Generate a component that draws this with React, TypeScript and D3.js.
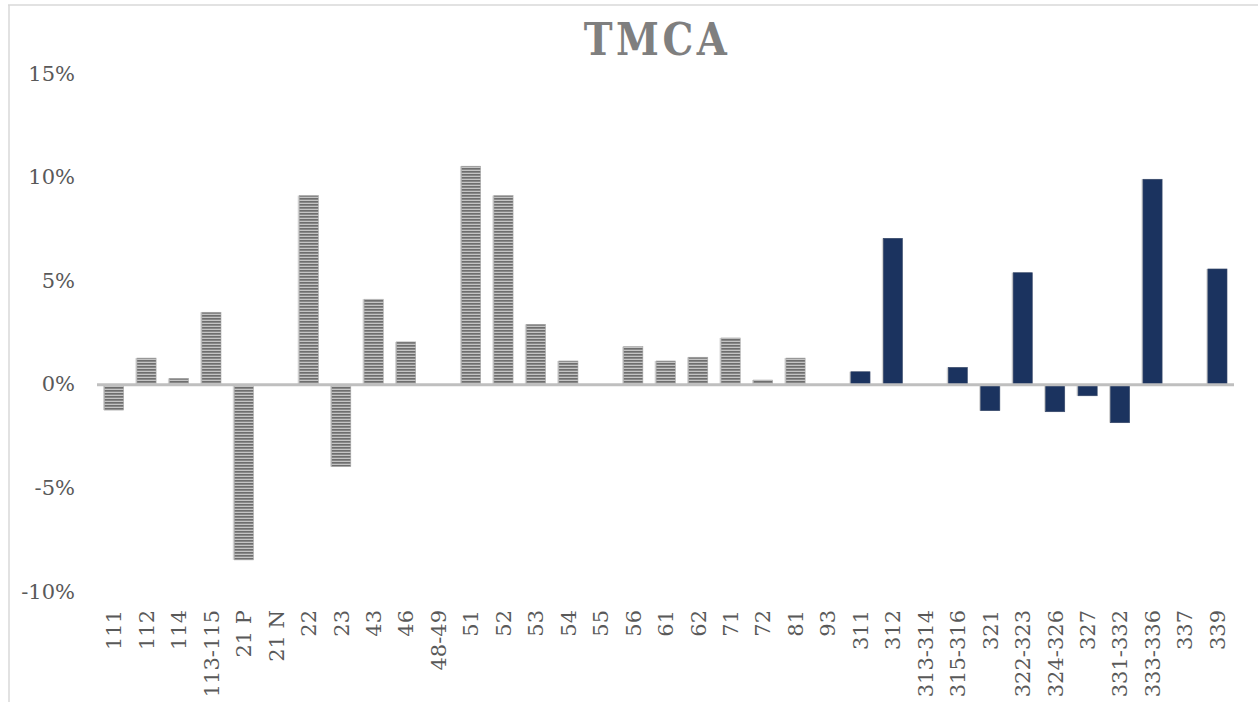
import React from 'react';
import * as d3 from 'd3';

const categories = [
  '111', '112', '114', '113-115', '21 P', '21 N', '22', '23', '43', '46', '48-49',
  '51', '52', '53', '54', '55', '56', '61', '62', '71', '72', '81', '93',
  '311', '312', '313-314', '315-316', '321', '322-323', '324-326', '327',
  '331-332', '333-336', '337', '339',
];

// growth rates in %
const values = [
  -1.22, 1.29, 0.31, 3.5, -8.45, 0, 9.13, -3.95, 4.13, 2.07, 0,
  10.55, 9.13, 2.92, 1.15, 0, 1.84, 1.15, 1.33, 2.26, 0.23, 1.29, 0,
  0.63, 7.07, 0, 0.84, -1.25, 5.41, -1.3, -0.53,
  -1.83, 9.92, 0, 5.59,
];

// manufacturing (3xx) drawn in navy, the rest striped gray
const manufacturing = categories.map((c) => c.startsWith('3'));

const yTicks = [-10, -5, 0, 5, 10, 15];

const W = 1258;
const H = 702;

export default function App() {
  const x = d3.scaleBand<string>()
    .domain(categories)
    .range([98, 1233.5])
    .paddingInner(0.41)
    .paddingOuter(0.2);

  const y = d3.scaleLinear().domain([-10, 15]).range([592, 74]);

  const font = '"DejaVu Serif", serif';

  return (
    <div style={{ position: 'absolute', left: 0, top: 0 }}>
      <svg width={W} height={H} style={{ display: 'block', background: '#fff' }}>
        <defs>
          <pattern id="stripes" width="6" height="3" patternUnits="userSpaceOnUse">
            <rect width="6" height="3" fill="#c4c4c4" />
            <rect width="6" height="1.7" fill="#6e6e6e" />
          </pattern>
        </defs>

        {/* chart frame (cropped) */}
        <line x1={8} x2={W} y1={5} y2={5} stroke="#d9d9d9" strokeWidth={1.5} />
        <line x1={9} x2={9} y1={5} y2={H} stroke="#d9d9d9" strokeWidth={1.5} />

        <g transform="translate(657,55) scale(0.88,1)">
          <text
            x={0}
            y={0}
            textAnchor="middle"
            fontFamily={font}
            fontWeight="bold"
            fontSize={44}
            letterSpacing={4}
            fill="#7f7f7f"
          >
            TMCA
          </text>
        </g>

        {yTicks.map((t) => (
          <text
            key={t}
            x={75}
            y={y(t) + 1}
            textAnchor="end"
            dominantBaseline="middle"
            fontFamily={font}
            fontSize={21}
            fill="#595959"
          >
            {`${t}%`}
          </text>
        ))}

        {categories.map((c, i) => {
          const v = values[i];
          if (v === 0) return null;
          const bx = x(c) ?? 0;
          const top = y(Math.max(0, v));
          const h = Math.abs(y(v) - y(0));
          return (
            <g key={c}>
              <rect x={bx - 1.5} y={top} width={x.bandwidth()} height={h} fill="#d3d3d3" />
              <rect
                x={bx}
                y={top}
                width={x.bandwidth()}
                height={h}
                fill={manufacturing[i] ? '#1b335f' : 'url(#stripes)'}
                stroke={manufacturing[i] ? '#3b4b6b' : '#a8a8a8'}
                strokeWidth={0.6}
              />
            </g>
          );
        })}

        <line
          x1={97}
          x2={1234}
          y1={y(0)}
          y2={y(0)}
          stroke="#bfbfbf"
          strokeWidth={3}
        />

        {categories.map((c) => {
          const cx = (x(c) ?? 0) + x.bandwidth() / 2;
          return (
            <text
              key={c}
              transform={`translate(${cx},610) rotate(-90)`}
              textAnchor="end"
              dy="0.35em"
              fontFamily={font}
              fontSize={21}
              fill="#595959"
            >
              {c}
            </text>
          );
        })}
      </svg>
    </div>
  );
}
